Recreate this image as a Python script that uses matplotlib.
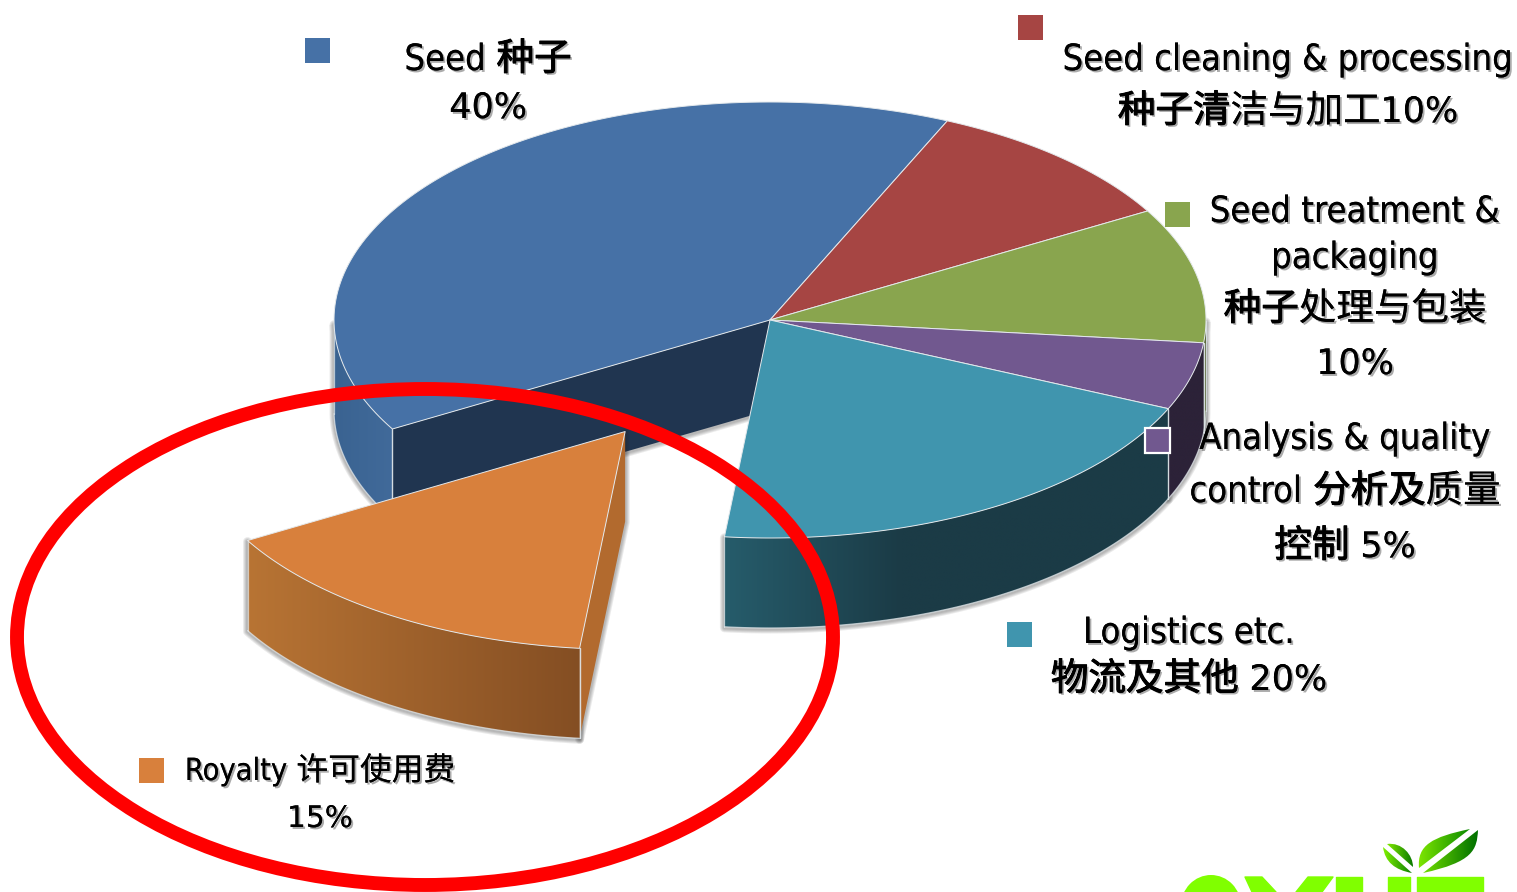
import numpy as np
import matplotlib
matplotlib.use('Agg')
import matplotlib.pyplot as plt
import matplotlib.patheffects as pe
from matplotlib.colors import LinearSegmentedColormap
from matplotlib.patches import Ellipse, Polygon, PathPatch, Rectangle
from matplotlib.path import Path

# data
categories = ['Seed', 'Seed cleaning & processing', 'Seed treatment & packaging',
              'Analysis & quality control', 'Logistics etc.', 'Royalty']
shares = [40, 10, 10, 5, 20, 15]

# (text, bold?) runs per line, one block per category
label_lines = [
    [[('Seed', 0), (' ', 0), ('种子', 1)], [('40%', 0)]],
    [[('Seed cleaning & processing', 0)], [('种子清', 1), ('洁与加工', 0), ('10%', 0)]],
    [[('Seed treatment &', 0)], [('packaging', 0)], [('种子', 1), ('处理与包装', 0)], [('10%', 0)]],
    [[('Analysis & quality', 0)], [('control', 0), (' ', 0), ('分析及', 1), ('质量', 0)],
     [('控制', 1), (' ', 0), ('5%', 0)]],
    [[('Logistics etc.', 0)], [('物流及其他', 1), (' ', 0), ('20%', 0)]],
    [[('Royalty', 0), (' ', 0), ('许可使用费', 0)], [('15%', 0)]],
]

# layout
W, H = 1517, 892
cx, cy, rx, ry, depth = 770, 320, 436, 218, 90
start_angle = 210
explode = [0, 0, 0, 0, 0, 0.61]
top_colors = ['#4671a6', '#a64543', '#89a54e', '#71588f', '#4095ae', '#d8803c']
wall_left = ['#3a6391', '#6e2e2c', '#4f5f2d', '#2c2238', '#265c6b', '#b87434']
wall_right = ['#416a9a', '#6e2e2c', '#4f5f2d', '#2c2238', '#1b3b46', '#844e23']
wall_stop = [1, 1, 1, 1, 0.4, 1]
cut_colors = ['#203550', '#6e2e2c', '#4f5f2d', '#2c2238', '#1b3b46', '#b26a2e']
square_xy = [(305, 38), (1018, 15), (1165, 202), (1145, 428), (1007, 622), (139, 758)]
label_x = [488, 1288, 1355, 1345, 1189, 320]
label_base = [[70, 118], [70, 122], [222, 268, 320, 374], [449, 502, 557], [643, 690], [780, 827]]
label_size = [26, 26, 26, 26, 26, 22]
latin = dict(family=['DejaVu Sans'], stretch='condensed')
digits = dict(family=['DejaVu Sans'])

plt.rcParams['font.family'] = ['DejaVu Sans', 'Noto Sans CJK SC']

fig = plt.figure(figsize=(W / 100, H / 100), dpi=100)
ax = fig.add_axes([0, 0, 1, 1])
ax.set_xlim(0, W)
ax.set_ylim(H, 0)
ax.axis('off')


def arc(t0, t1, dx=0, dy=0, n=120):
    t = np.radians(np.linspace(t0, t1, n))
    return np.column_stack([cx + dx + rx * np.cos(t), cy + dy - ry * np.sin(t)])


def gradient_fill(poly, c0, c1, stop, z):
    x0, x1 = poly[:, 0].min(), poly[:, 0].max()
    y0, y1 = poly[:, 1].min(), poly[:, 1].max()
    cmap = LinearSegmentedColormap.from_list('g', [c0, c1])
    ramp = np.clip(np.linspace(0, 1, 256) / stop, 0, 1)
    im = ax.imshow(ramp[None, :], cmap=cmap, extent=[x0, x1, y1, y0], vmin=0, vmax=1,
                   aspect='auto', zorder=z, interpolation='bilinear')
    clip = Polygon(poly, closed=True, transform=ax.transData, fc='none', ec='none')
    ax.add_patch(clip)
    im.set_clip_path(clip)


def soft_shadow(poly, z):
    for lw in [9, 7, 5, 3]:
        ax.add_patch(Polygon(poly + [0, 1], closed=True, fc='none', ec='#202020', lw=lw * 0.72,
                             alpha=0.09, joinstyle='round', zorder=z))


seam = dict(color='#dfe6ea', lw=0.9, alpha=0.75, solid_capstyle='round')
angles = start_angle - np.cumsum([0] + shares) * 3.6
slices = []
for i in range(len(shares)):
    t0, t1 = angles[i], angles[i + 1]
    mid = np.radians((t0 + t1) / 2)
    dx = explode[i] * rx * np.cos(mid)
    dy = -explode[i] * ry * np.sin(mid)
    slices.append((i, t0, t1, dx, dy))

# back to front: blue first, exploded orange last
for i, t0, t1, dx, dy in slices:
    z = 2 + (10 if explode[i] else 0)
    apex = np.array([[cx + dx, cy + dy]])
    pts = arc(t0, t1, dx, dy)
    down = np.array([0, depth])

    # walls
    below = pts[np.sin(np.radians(np.linspace(t0, t1, len(pts)))) <= 0.0]
    walls = []
    if len(below) > 1:
        walls.append(np.vstack([below, (below + down)[::-1]]))
    if i == 0 or explode[i]:
        # cut face, seen from the front
        walls.append(np.vstack([pts[0], apex, apex + down, pts[0] + down]))
    for w in walls:
        soft_shadow(w, z - 1)
    if len(below) > 1:
        gradient_fill(walls[0], wall_left[i], wall_right[i], wall_stop[i], z + 0.1)
        ax.plot(below[:, 0], below[:, 1] + depth, zorder=z + 0.4, **seam)
        for e in [below[0], below[-1]]:
            ax.plot([e[0], e[0]], [e[1], e[1] + depth], zorder=z + 0.4, **seam)
    if i == 0 or explode[i]:
        ax.add_patch(Polygon(walls[-1], closed=True, fc=cut_colors[i], ec='none', zorder=z + 0.2))
        ax.plot(*np.column_stack([pts[0], pts[0] + down]), zorder=z + 0.4, **seam)

# tops go over every wall except the exploded slice, which sits in front
for i, t0, t1, dx, dy in slices:
    z = 6 + (10 if explode[i] else 0)
    apex = np.array([[cx + dx, cy + dy]])
    poly = np.vstack([apex, arc(t0, t1, dx, dy)])
    ax.add_patch(Polygon(poly, closed=True, fc=top_colors[i], ec='#e4e9ec', lw=0.7, zorder=z,
                         joinstyle='round'))

# hand drawn red ring
ax.add_patch(Ellipse((425, 637), 816, 496, fc='none', ec='#ff0000', lw=10, zorder=30))

# legend squares
for i, (x, y) in enumerate(square_xy):
    ec = 'white' if i == 3 else 'none'
    ax.add_patch(Rectangle((x, y), 25, 25, fc=top_colors[i], ec=ec, lw=1.6, zorder=31))

# labels
shadow = [pe.withSimplePatchShadow(offset=(1.4, -1.4), shadow_rgbFace='k', alpha=0.33), pe.Normal()]
shadow_bold = [pe.withSimplePatchShadow(offset=(1.4, -1.4), shadow_rgbFace='k', alpha=0.33),
               pe.withStroke(linewidth=0.7, foreground='k')]
fig.canvas.draw()
renderer = fig.canvas.get_renderer()


def draw_line(x_mid, base, runs, size):
    items = []
    total = 0
    for text, bold in runs:
        if text == ' ':
            items.append((None, size * 0.42))
            total += size * 0.42
            continue
        if ord(text[0]) > 0x2e80:
            kw = dict(family=['Noto Sans CJK SC'], fontsize=size * 1.04)
        elif '%' in text:
            kw = dict(digits, fontsize=size * 0.97)
        else:
            kw = dict(latin, fontsize=size)
        t = ax.text(0, base, text, va='baseline', ha='left', color='black', zorder=40,
                    path_effects=shadow_bold if bold else shadow, **kw)
        width = t.get_window_extent(renderer).width
        items.append((t, width))
        total += width
    x = x_mid - total / 2
    for t, width in items:
        if t is not None:
            t.set_x(x)
        x += width


for i in range(len(categories)):
    for runs, base in zip(label_lines[i], label_base[i]):
        draw_line(label_x[i], base, runs, label_size[i])

# logo, cut by the slide edge
lime = '#80ff00'
ax.add_patch(Ellipse((1211, 906), 60, 62, fc=lime, ec='none', zorder=20))
for poly in [[(1245, 877), (1262, 877), (1276, 892), (1252, 892)],
             [(1308, 877), (1333, 877), (1322, 892), (1296, 892)],
             [(1336, 877), (1362, 877), (1362, 892), (1336, 892)],
             [(1388, 877), (1410, 877), (1410, 892), (1388, 892)],
             [(1417, 877), (1483, 877), (1483, 892), (1417, 892)]]:
    ax.add_patch(Polygon(poly, closed=True, fc=lime, ec=lime, lw=1, joinstyle='round', zorder=20))

C3, M = Path.CURVE4, Path.MOVETO
leaves = [
    ([(1419, 868), (1417, 845), (1432, 837), (1470, 829)], '#80e800', '#0c8a00'),
    ([(1478, 830), (1477, 850), (1473, 862), (1423, 873)], '#70dc00', '#007000'),
    ([(1387, 844), (1402, 842), (1413, 855), (1413, 867)], '#80e800', '#0a7a00'),
    ([(1383, 847), (1385, 862), (1395, 870), (1412, 873)], '#80f000', '#0c8000'),
]
for curve, c0, c1 in leaves:
    p = np.array(curve)
    path = Path(curve + [curve[0]], [M, C3, C3, C3, Path.CLOSEPOLY])
    x0, x1, y0, y1 = p[:, 0].min(), p[:, 0].max(), p[:, 1].min(), p[:, 1].max()
    cmap = LinearSegmentedColormap.from_list('leaf', [c0, c1])
    im = ax.imshow(np.linspace(0, 1, 64)[None, :], cmap=cmap, extent=[x0, x1, y1, y0], aspect='auto', zorder=20)
    patch = PathPatch(path, transform=ax.transData, fc='none', ec='none')
    ax.add_patch(patch)
    im.set_clip_path(patch)

ax.set_xlim(0, W)
ax.set_ylim(H, 0)
fig.savefig('out.png', dpi=100, facecolor='white')
